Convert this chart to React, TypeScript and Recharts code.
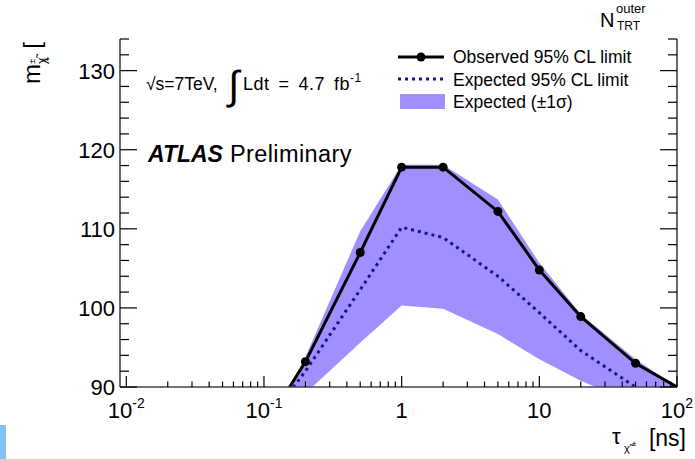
import React from "react";
import { ComposedChart, Area, Line, XAxis, YAxis } from "recharts";

// lifetime points [ns] and mass limits [GeV]
const tau = [0.1, 0.2, 0.5, 1, 2, 5, 10, 20, 50, 100];
const observed = [84.8, 93.2, 107.0, 117.8, 117.8, 112.2, 104.8, 98.9, 93.0, 90.0];
const expected = [85.0, 92.0, 102.3, 110.2, 108.9, 104.0, 99.4, 94.6, 90.0, 87.0];
const bandLow = [76.0, 89.2, 95.6, 100.3, 99.9, 96.7, 93.5, 90.8, 87.8, 85.0];
const bandHigh = [84.0, 93.8, 109.7, 118.1, 118.1, 113.7, 105.7, 99.2, 93.5, 90.0];

const xMajor = [0.01, 0.1, 1, 10, 100];
const xBase = ["10", "10", "1", "10", "10"];
const xExp = ["-2", "-1", "", "", "2"];
const yMajor = [90, 100, 110, 120, 130];

const FONT = "'Liberation Sans', Arial, Helvetica, sans-serif";
const BAND = "#a090ff";
const EXP = "#1c0f8f";

const data = tau.map((t, i) => ({
  tau: t,
  obs: observed[i],
  exp: expected[i],
  band: [bandLow[i], bandHigh[i]],
}));

// log axis ticks: 1..9 per decade
const xTicks: number[] = [];
for (let d = -2; d <= 1; d++) {
  for (let m = 1; m <= 9; m++) xTicks.push(Number((m * Math.pow(10, d)).toPrecision(3)));
}
xTicks.push(100);

const yTicks: number[] = [];
for (let v = 90; v <= 134; v += 2) yTicks.push(v);

const isMajorX = (v: number) => xMajor.findIndex((m) => Math.abs(m - v) / m < 1e-6);

const XTick = (props: any) => {
  const { x, y, payload } = props;
  const idx = isMajorX(payload.value);
  const major = idx >= 0;
  return (
    <g>
      <line x1={x} x2={x} y1={y} y2={y - (major ? 11 : 5.5)} stroke="#000" strokeWidth={1.2} />
      {major && (
        <text x={x} y={y + 31} textAnchor="middle" fontSize={22} fontFamily={FONT} fill="#000">
          {xBase[idx]}
          {xExp[idx] && (
            <tspan dy={-10} fontSize={14}>
              {xExp[idx]}
            </tspan>
          )}
        </text>
      )}
    </g>
  );
};

const YTickLeft = (props: any) => {
  const { x, y, payload } = props;
  const major = yMajor.includes(payload.value);
  return (
    <g>
      <line x1={x} x2={x + (major ? 17 : 9)} y1={y} y2={y} stroke="#000" strokeWidth={1.2} />
      {major && (
        <text x={x - 5} y={y + 8} textAnchor="end" fontSize={22} fontFamily={FONT} fill="#000">
          {payload.value}
        </text>
      )}
    </g>
  );
};

const YTickRight = (props: any) => {
  const { x, y, payload } = props;
  const major = yMajor.includes(payload.value);
  return <line x1={x} x2={x - (major ? 17 : 9)} y1={y} y2={y} stroke="#000" strokeWidth={1.2} />;
};

const ObsDot = (props: any) => {
  const { cx, cy, payload, index } = props;
  if (payload.tau < 0.15 || payload.tau >= 100) return <g key={`d-${index}`} />;
  return <circle key={`d-${index}`} cx={cx} cy={cy} r={4.5} fill="#000" />;
};

const Overlay = () => (
  <svg
    width={695}
    height={459}
    style={{ position: "absolute", left: 0, top: 0, pointerEvents: "none" }}
    fontFamily={FONT}
  >
    {/* y axis title */}
    <g transform="translate(40,84) rotate(-90)">
      <text x={0} y={0} fontSize={24} fill="#000">
        m
        <tspan fontSize={12} dy={6}>χ̃</tspan>
        <tspan fontSize={9} dx={-6} dy={-11}>±</tspan>
        <tspan fontSize={9} dx={-3} dy={13}>1</tspan>
        <tspan fontSize={24} dy={-8} dx={8}>[</tspan>
      </text>
    </g>

    {/* top right label */}
    <text x={600} y={27} fontSize={20} fill="#000">N</text>
    <text x={616} y={13} fontSize={13} fill="#000">outer</text>
    <text x={617} y={30} fontSize={12} fill="#000">TRT</text>

    {/* x axis title */}
    <text x={612} y={444} fontSize={22} fill="#000">τ</text>
    <text x={624} y={452} fontSize={11} fill="#000">χ̃</text>
    <text x={632} y={446} fontSize={8} fill="#000">±</text>
    <text x={686} y={446} fontSize={23} textAnchor="end" fill="#000">[ns]</text>

    {/* energy and luminosity */}
    <text x={146} y={90} fontSize={17.5} fill="#000">√s=7TeV,</text>
    <text x={228} y={99} fontSize={40} fill="#000">∫</text>
    <text x={243} y={90} fontSize={18} fill="#000" wordSpacing={3.5} letterSpacing={0.5}>
      Ldt = 4.7 fb
      <tspan fontSize={12} dy={-8}>-1</tspan>
    </text>

    <text x={148} y={162} fontSize={23} fill="#000">
      <tspan fontWeight="bold" fontStyle="italic">ATLAS</tspan>
      <tspan dx={7} fontSize={23.5} letterSpacing={0.4}>Preliminary</tspan>
    </text>

    {/* legend */}
    <line x1={398} x2={444} y1={57} y2={57} stroke="#000" strokeWidth={3} />
    <circle cx={421} cy={57} r={4.5} fill="#000" />
    <text x={453} y={63} fontSize={17.5} fill="#000">Observed 95% CL limit</text>
    <line x1={398} x2={444} y1={79} y2={79} stroke={EXP} strokeWidth={3} strokeDasharray="3 4" />
    <text x={453} y={85.5} fontSize={17.5} fill="#000">Expected 95% CL limit</text>
    <rect x={400} y={94} width={45} height={15} fill={BAND} />
    <text x={453} y={108} fontSize={17.5} fill="#000">Expected (±1σ)</text>
  </svg>
);

export default function App() {
  return (
    <div style={{ position: "absolute", left: 0, top: 0, width: 695, height: 459, background: "#fff" }}>
      <ComposedChart
        width={695}
        height={459}
        data={data}
        margin={{ top: 39, right: 0, bottom: 0, left: 0 }}
      >
        <XAxis
          dataKey="tau"
          type="number"
          scale="log"
          domain={[0.009, 100]}
          allowDataOverflow
          ticks={xTicks}
          interval={0}
          height={72}
          tickSize={0}
          tickMargin={0}
          tick={<XTick />}
          axisLine={{ stroke: "#444", strokeWidth: 1.6 }}
        />
        <YAxis
          yAxisId="left"
          type="number"
          domain={[90, 134]}
          allowDataOverflow
          ticks={yTicks}
          interval={0}
          width={120}
          tickSize={0}
          tickMargin={0}
          tick={<YTickLeft />}
          axisLine={{ stroke: "#444", strokeWidth: 1.6 }}
        />
        <YAxis
          yAxisId="right"
          orientation="right"
          type="number"
          domain={[90, 134]}
          allowDataOverflow
          ticks={yTicks}
          interval={0}
          width={18}
          tickSize={0}
          tickMargin={0}
          tick={<YTickRight />}
          axisLine={{ stroke: "#444", strokeWidth: 1.6 }}
        />
        <Area
          yAxisId="left"
          dataKey="band"
          type="linear"
          stroke="none"
          fill={BAND}
          fillOpacity={1}
          isAnimationActive={false}
        />
        <Line
          yAxisId="left"
          dataKey="exp"
          type="linear"
          stroke={EXP}
          strokeWidth={3}
          strokeDasharray="3 4"
          dot={false}
          isAnimationActive={false}
        />
        <Line
          yAxisId="left"
          dataKey="obs"
          type="linear"
          stroke="#000"
          strokeWidth={3}
          dot={<ObsDot />}
          isAnimationActive={false}
        />
      </ComposedChart>
      <Overlay />
      <div style={{ position: "absolute", left: 0, top: 425, width: 6, height: 34, background: "#84c1f7" }} />
    </div>
  );
}
